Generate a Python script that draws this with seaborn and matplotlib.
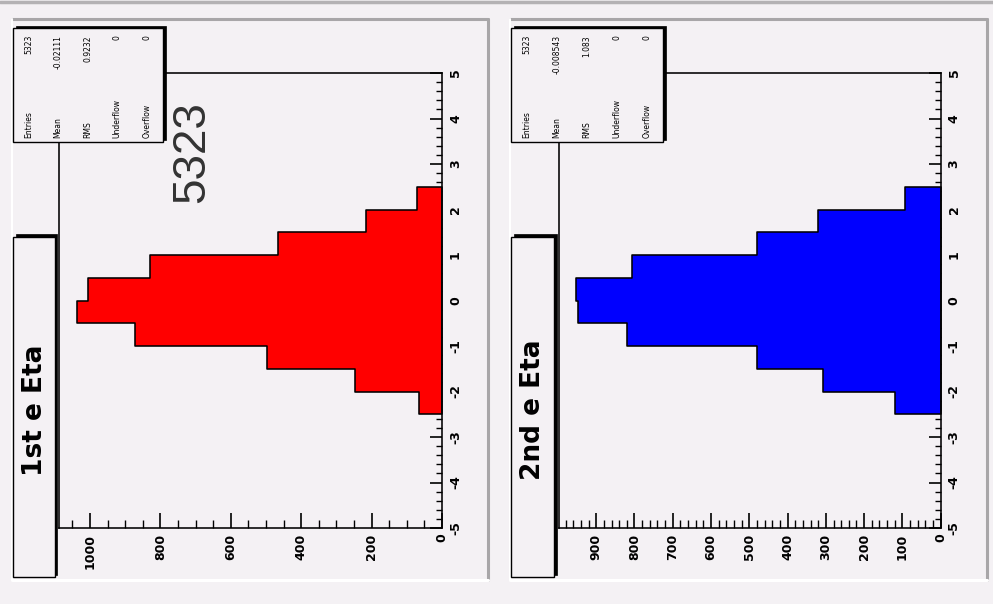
import numpy as np
import pandas as pd
import matplotlib
matplotlib.use("Agg")
import matplotlib.pyplot as plt
from matplotlib.patches import Rectangle
from matplotlib.lines import Line2D
from matplotlib.ticker import MultipleLocator
import seaborn as sns

# ---------------- data ----------------
eta_edges = [-2.5, -2.0, -1.5, -1.0, -0.5, 0.0, 0.5, 1.0, 1.5, 2.0, 2.5]
counts_1st = [65, 247, 497, 871, 1036, 1006, 830, 465, 217, 72]
counts_2nd = [120, 308, 479, 820, 948, 952, 807, 479, 321, 92]
titles = ["1st e Eta", "2nd e Eta"]
stat_labels = ["Entries", "Mean", "RMS", "Underflow", "Overflow"]
stats_1st = ["5323", "-0.02111", "0.9232", "0", "0"]
stats_2nd = ["5323", "-0.008543", "1.083", "0", "0"]
big_label = "5323"

# ---------------- style ----------------
BG = "#f4f1f4"
sns.set_style("ticks")
plt.rcParams["font.family"] = ["DejaVu Sans"]
plt.rcParams["axes.unicode_minus"] = False
plt.rcParams["text.color"] = "black"
plt.rcParams["xtick.color"] = "black"
plt.rcParams["ytick.color"] = "black"
plt.rcParams["xtick.labelcolor"] = "black"
plt.rcParams["ytick.labelcolor"] = "black"

W, H = 993, 604
fig = plt.figure(figsize=(W / 100, H / 100), dpi=100, facecolor=BG)


def fx(x):
    return x / W


def fy(y):
    return 1 - y / H


def add_rect(x0, y0, x1, y1, fc, ec, lw, z, shadow=False):
    if shadow:
        fig.add_artist(Rectangle((fx(x0 + 2.5), fy(y1) + 2.5 / H), fx(x1) - fx(x0),
                                 fy(y0) - fy(y1), transform=fig.transFigure,
                                 facecolor="black", edgecolor="black", lw=0.5, zorder=z))
    fig.add_artist(Rectangle((fx(x0), fy(y1)), fx(x1) - fx(x0), fy(y0) - fy(y1),
                             transform=fig.transFigure, facecolor=fc, edgecolor=ec,
                             lw=lw, zorder=z + 0.1))


def add_line(x0, y0, x1, y1, color, lw, z=0.5):
    fig.add_artist(Line2D([fx(x0), fx(x1)], [fy(y0), fy(y1)], transform=fig.transFigure,
                          color=color, lw=lw, zorder=z))


# canvas top border
add_line(0, 1.5, W, 1.5, "#b4b2b4", 2.5)

panels = [
    dict(pad=(12, 19, 488, 580), ax=(59, 73, 442, 528), xmax=1088, major=200, minor=50,
         counts=counts_1st, color="#ff0000", title=titles[0], stats=stats_1st,
         sbox=(13, 28, 163, 142), tbox=(13, 237, 55, 577), big=True),
    dict(pad=(510, 19, 987, 580), ax=(558.7, 73, 940.7, 528), xmax=998, major=100, minor=20,
         counts=counts_2nd, color="#0000ff", title=titles[1], stats=stats_2nd,
         sbox=(511, 28, 663, 142), tbox=(511, 237, 554, 577), big=False),
]

edges = np.array(eta_edges)
centers = (edges[:-1] + edges[1:]) / 2

for p in panels:
    # pad borders
    px0, py0, px1, py1 = p["pad"]
    add_line(px0, py0, px1, py0, "#a8a6a8", 2.2)
    add_line(px1, py0, px1, py1, "#a8a6a8", 2.2)
    add_line(px0, py1, px1, py1, "#ffffff", 2.2)
    add_line(px0, py0, px0, py1, "#ffffff", 1.5)

    x0, y0, x1, y1 = p["ax"]
    ax = fig.add_axes([fx(x0), fy(y1), fx(x1) - fx(x0), fy(y0) - fy(y1)])
    ax.set_facecolor(BG)
    df = pd.DataFrame({"eta": centers, "n": p["counts"]})
    sns.histplot(data=df, y="eta", weights="n", bins=eta_edges, element="step",
                 fill=True, color=p["color"], alpha=1, edgecolor="black",
                 linewidth=1.15, ax=ax)
    ax.set_xlim(p["xmax"], 0)
    ax.set_ylim(-5, 5)
    ax.set_xlabel("")
    ax.set_ylabel("")
    for s in ax.spines.values():
        s.set_visible(True)
        s.set_color("black")
        s.set_linewidth(1.15)
    ax.yaxis.tick_right()
    ax.yaxis.set_label_position("right")
    ax.xaxis.set_major_locator(MultipleLocator(p["major"]))
    ax.xaxis.set_minor_locator(MultipleLocator(p["minor"]))
    ax.yaxis.set_major_locator(MultipleLocator(1))
    ax.yaxis.set_minor_locator(MultipleLocator(0.2))
    ax.tick_params(axis="x", which="major", direction="in", length=11, width=1.2,
                   labelsize=9, labelrotation=90, pad=4, bottom=True, top=False)
    ax.tick_params(axis="x", which="minor", direction="in", length=6, width=1.0,
                   bottom=True, top=False)
    ax.tick_params(axis="y", which="major", direction="in", length=8.5, width=1.2,
                   labelsize=9, labelrotation=90, pad=5, right=True, left=False)
    ax.tick_params(axis="y", which="minor", direction="in", length=4, width=1.0,
                   right=True, left=False)
    for lab in ax.get_xticklabels():
        lab.set_fontweight("bold")
    for lab in ax.get_yticklabels():
        lab.set_fontweight("bold")
        lab.set_va("center")

    # stats box
    sx0, sy0, sx1, sy1 = p["sbox"]
    add_rect(sx0, sy0, sx1, sy1, BG, "black", 1.0, 2, shadow=True)
    col_x = np.linspace(sx0 + 15.5, sx1 - 16, 5)
    for cx, lab, val in zip(col_x, stat_labels, p["stats"]):
        fig.text(fx(cx), fy(sy1 - 4), lab, rotation=90, fontsize=5.5,
                 ha="center", va="bottom", zorder=3)
        fig.text(fx(cx), fy(sy0 + 7), val, rotation=90, fontsize=5.5,
                 ha="center", va="top", zorder=3)

    # title box
    tx0, ty0, tx1, ty1 = p["tbox"]
    add_rect(tx0, ty0, tx1, ty1, BG, "black", 1.0, 2, shadow=True)
    fig.text(fx((tx0 + tx1) / 2 + 1), fy((ty0 + ty1) / 2 + 3), p["title"], rotation=90,
             fontsize=19, fontweight="bold", ha="center", va="center", zorder=3)

    if p["big"]:
        fig.text(fx(192), fy(152), big_label, rotation=90, fontsize=33,
                 family=["Liberation Sans", "DejaVu Sans"], color="#333333",
                 ha="center", va="center", zorder=3)

fig.savefig("out.png", dpi=100, facecolor=BG)
